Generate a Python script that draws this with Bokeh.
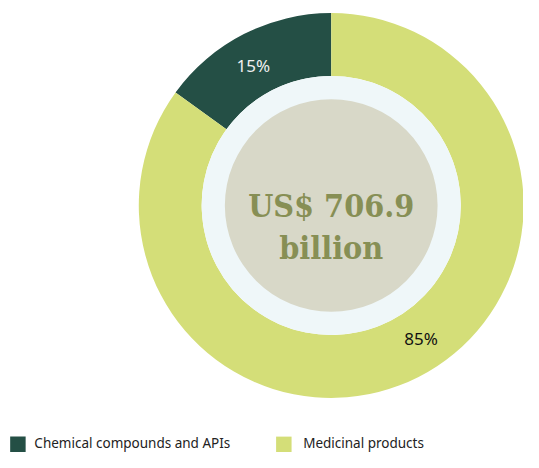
import numpy as np
from bokeh.plotting import figure
from bokeh.models import Range1d
from bokeh.core.properties import value
from bokeh.embed import file_html
from bokeh.resources import INLINE

categories = ["Chemical compounds and APIs", "Medicinal products"]
shares = [15, 85]
total_label = ["US$ 706.9", "billion"]

colors = ["#244f45", "#d4de78"]
label_colors = ["#f0f0f0", "#111111"]

W, H = 523, 452
s = 0.967  # layout scale


def X(px):
    return px * s


def Y(py):
    return H - py * s


p = figure(width=W, height=H, output_backend="svg", toolbar_location=None,
           x_range=Range1d(0, W), y_range=Range1d(0, H), min_border=0)
p.axis.visible = False
p.grid.visible = False
p.outline_line_color = None
p.background_fill_color = "white"

cx, cy = X(342), Y(212)
r_out, r_in, r_core = 199 * s, 134 * s, 110 * s

frac = np.array(shares, dtype=float) / sum(shares)
ends = np.pi / 2 + np.cumsum(frac) * 2 * np.pi
starts = np.concatenate([[np.pi / 2], ends[:-1]])

p.annular_wedge(x=[cx] * 2, y=[cy] * 2, inner_radius=r_in, outer_radius=r_out,
                start_angle=list(starts), end_angle=list(ends),
                fill_color=colors, line_color=None)
p.circle(x=[cx], y=[cy], radius=r_in, fill_color="#eff7f9", line_color=None)
p.circle(x=[cx], y=[cy], radius=r_core, fill_color="#d8d8c8", line_color=None)

nudges = [np.deg2rad(2), np.deg2rad(7)]
mids = (starts + ends) / 2 + np.array(nudges)
r_lab = 166 * s
lx = cx + r_lab * np.cos(mids)
ly = cy + r_lab * np.sin(mids)
p.text(x=list(lx), y=list(ly), text=[f"{v}%" for v in shares],
       text_color=label_colors, text_font=value("Noto Sans"), text_font_size="17px",
       text_align="center", text_baseline="middle")

p.text(x=[cx, cx], y=[Y(213), Y(256)], text=total_label,
       text_color="#878f55", text_font=value("DejaVu Serif Condensed"), text_font_style="bold",
       text_font_size="32px", text_align="center", text_baseline="alphabetic")

# legend
sq_x = [X(18), X(293)]
tx_x = [X(35), X(313)]
leg_y = Y(458)
p.rect(x=sq_x, y=[Y(459.5)] * 2, width=16 * s, height=17 * s,
       fill_color=colors, line_color=None)
p.text(x=tx_x, y=[leg_y] * 2, text=categories,
       text_color="#222222", text_font=value("Noto Sans"), text_font_size="13.5px",
       text_align="left", text_baseline="middle")

open("out.html", "w").write(file_html(p, INLINE))
